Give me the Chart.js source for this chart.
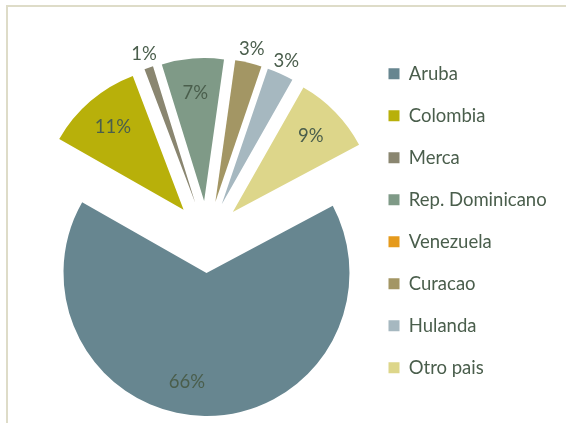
<!DOCTYPE html>
<html>
<head>
<meta charset="utf-8">
<script src="https://cdn.jsdelivr.net/npm/chart.js@4"></script>
<style>
  html, body { margin: 0; padding: 0; background: #fff; }
  #wrap { position: relative; width: 566px; height: 423px; }
  #frame { position: absolute; left: 6px; top: 5px; right: 0; bottom: 0;
           border-left: 2px solid #dedcc8; border-top: 2px solid #dedcc8; }
  canvas { position: absolute; left: 0; top: 0; }
</style>
</head>
<body>
<div id="wrap">
  <div id="frame"></div>
  <canvas id="pie" width="566" height="423"></canvas>
</div>
<script>
// share of each country (percent)
var paises  = ["Aruba", "Colombia", "Merca", "Rep. Dominicano", "Venezuela", "Curacao", "Hulanda", "Otro pais"];
var valores = [66, 11, 1, 7, 0, 3, 3, 9];
var colores = ["#678690", "#b8b00a", "#8a8670", "#7f9a87", "#e59a1c", "#a39664", "#a6b8c0", "#ddd68a"];

var EXPLODE = 36;      // distance every slice is pulled out
var TEXT = "#4a5e4c";
var FONT = 18.5;
var LEGEND_LEFT = 365;  // where the legend block should start

// draw each arc moved out along its middle angle (same distance for all, like excel)
var explodePlugin = {
	id: "explode",
	beforeDatasetDraw: function(chart, args) {
		var ctx = chart.ctx;
		args.meta.data.forEach(function(arc) {
			var mid = (arc.startAngle + arc.endAngle) / 2;
			ctx.save();
			ctx.translate(Math.cos(mid) * EXPLODE, Math.sin(mid) * EXPLODE);
			arc.draw(ctx);
			ctx.restore();
		});
		return false;
	},
	afterDatasetsDraw: function(chart) {
		var ctx = chart.ctx;
		var meta = chart.getDatasetMeta(0);
		var data = chart.data.datasets[0].data;
		var total = data.reduce(function(a, b) { return a + b; }, 0);
		ctx.save();
		ctx.font = FONT + "px Lato";
		ctx.fillStyle = TEXT;
		ctx.textAlign = "center";
		ctx.textBaseline = "middle";
		meta.data.forEach(function(arc, i) {
			if (!data[i]) return;
			var pct = Math.round(data[i] / total * 100);
			var mid = (arc.startAngle + arc.endAngle) / 2;
			var k = pct < 5 ? 1.1 : 0.76;
			var r = EXPLODE + arc.outerRadius * k;
			var x = arc.x + Math.cos(mid) * r;
			// big slice: excel's best fit moves the label off the bottom centre
			if (pct > 50) x -= 18;
			ctx.fillText(pct + "%", x, arc.y + Math.sin(mid) * r);
		});
		ctx.restore();
	}
};

var chart = new Chart(document.getElementById("pie"), {
	type: "pie",
	data: {
		labels: paises,
		datasets: [{
			data: valores,
			backgroundColor: colores,
			borderWidth: 0,
			radius: 143
		}]
	},
	options: {
		responsive: false,
		animation: false,
		rotation: 62,
		layout: { padding: { top: 41, bottom: 0, left: 49, right: 0 } },
		plugins: {
			tooltip: { enabled: false },
			// empty title only pushes the pie down, legend keeps full height
			title: { display: true, text: "", font: { size: 1 }, padding: { top: 0, bottom: 8.8 } },
			legend: {
				position: "right",
				align: "start",
				labels: {
					boxWidth: 11,
					boxHeight: 11,
					padding: 23.5,
					color: TEXT,
					font: { family: "Lato", size: FONT }
				}
			}
		}
	},
	plugins: [explodePlugin]
});

chart.options.layout.padding.right = Math.max(0, 566 - LEGEND_LEFT - chart.legend.width);
chart.update();
</script>
</body>
</html>
